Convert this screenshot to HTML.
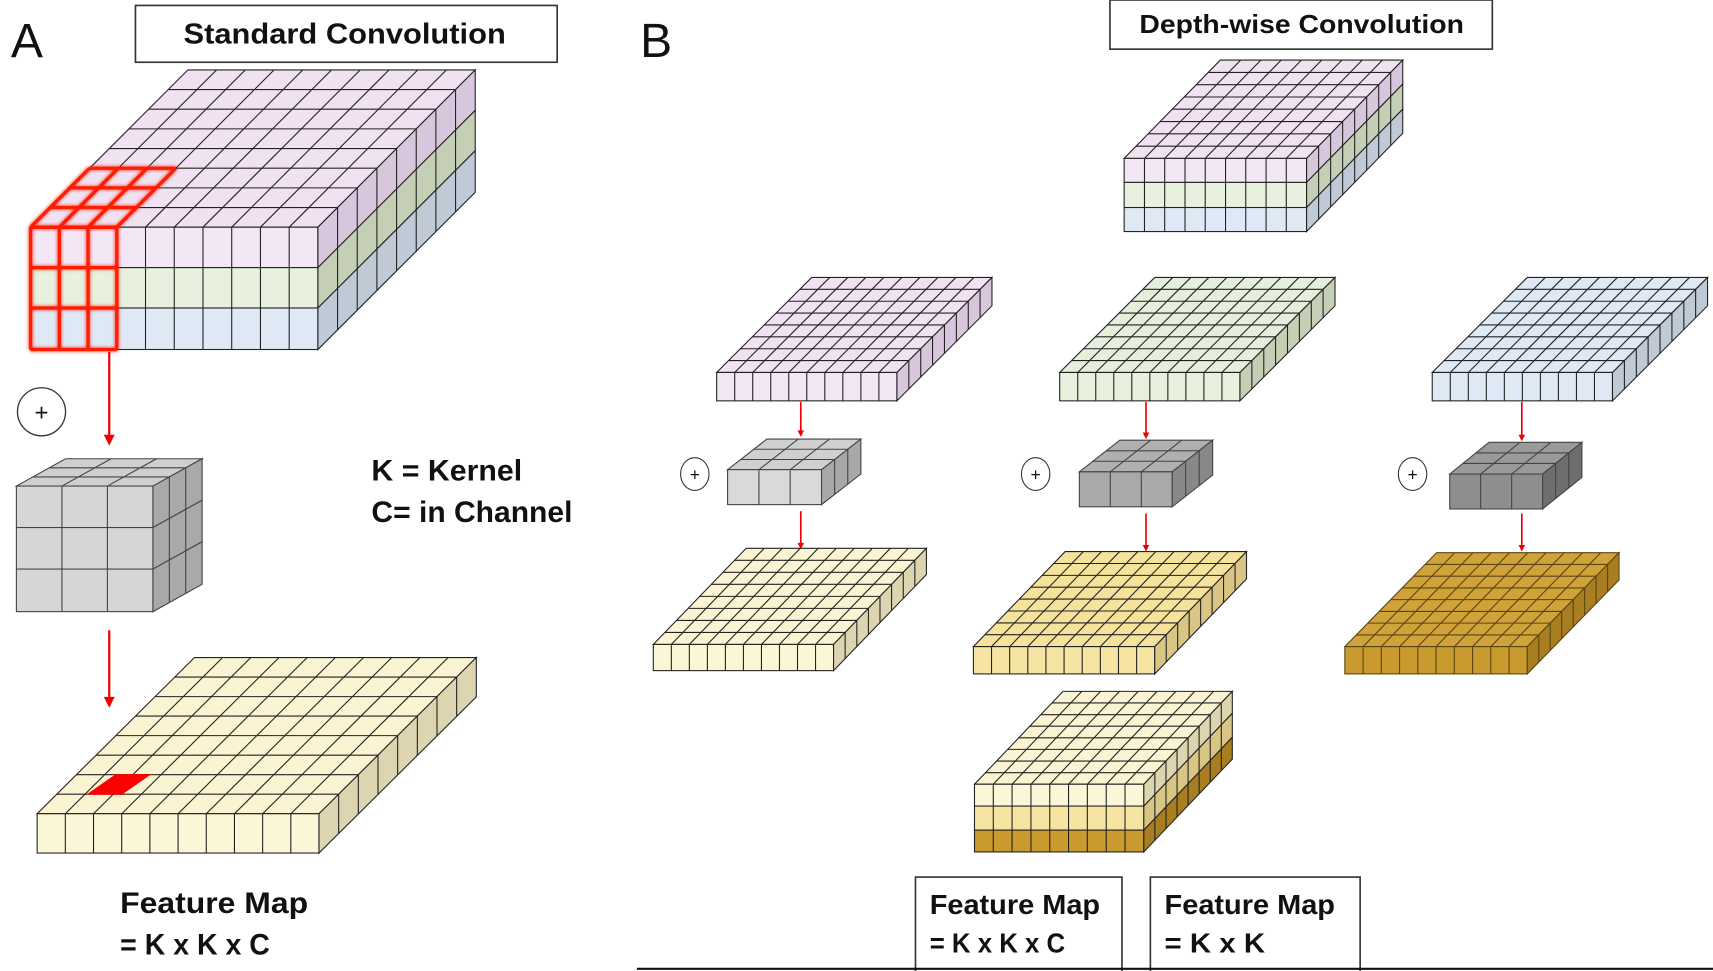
<!DOCTYPE html>
<html><head><meta charset="utf-8"><style>
html,body{margin:0;padding:0;background:#fff;width:1713px;height:971px;overflow:hidden}
svg{display:block}
text{font-family:"Liberation Sans",sans-serif;font-weight:bold;fill:#111}
</style></head><body>
<svg id="s" width="1713" height="971" viewBox="0 0 1568 889" preserveAspectRatio="none" xmlns="http://www.w3.org/2000/svg">
<defs>
<filter id="glow" x="-20%" y="-20%" width="140%" height="140%"><feGaussianBlur stdDeviation="1.6" result="b"/><feMerge><feMergeNode in="b"/><feMergeNode in="SourceGraphic"/></feMerge></filter>
</defs>
<g id="g"></g>
<text x="10" y="52" style="font-weight:normal;font-size:44px">A</text>
<text x="586" y="52" style="font-weight:normal;font-size:44px">B</text>
<rect x="124" y="5" width="386" height="52" fill="#fff" stroke="#333" stroke-width="1.5"/>
<text x="168" y="40" font-size="26" textLength="295" lengthAdjust="spacingAndGlyphs">Standard Convolution</text>
<rect x="1016" y="0" width="350" height="45" fill="#fff" stroke="#333" stroke-width="1.5"/>
<text x="1043" y="30" font-size="24" textLength="297" lengthAdjust="spacingAndGlyphs">Depth-wise Convolution</text>
<text x="340" y="440" font-size="27" textLength="138" lengthAdjust="spacingAndGlyphs">K = Kernel</text>
<text x="340" y="478" font-size="27" textLength="184" lengthAdjust="spacingAndGlyphs">C= in Channel</text>
<text x="110" y="836" font-size="27" textLength="172" lengthAdjust="spacingAndGlyphs">Feature Map</text>
<text x="110" y="874" font-size="27" textLength="137" lengthAdjust="spacingAndGlyphs">= K x K x C</text>
<rect x="838" y="803" width="189" height="90" fill="#fff" stroke="#333" stroke-width="1.5"/>
<rect x="1053" y="803" width="192" height="90" fill="#fff" stroke="#333" stroke-width="1.5"/>
<text x="851" y="837" font-size="25" textLength="156" lengthAdjust="spacingAndGlyphs">Feature Map</text>
<text x="851" y="872" font-size="25" textLength="124" lengthAdjust="spacingAndGlyphs">= K x K x C</text>
<text x="1066" y="837" font-size="25" textLength="156" lengthAdjust="spacingAndGlyphs">Feature Map</text>
<text x="1066" y="872" font-size="25" textLength="92" lengthAdjust="spacingAndGlyphs">= K x K</text>
<line x1="583" y1="887" x2="1568" y2="887" stroke="#111" stroke-width="2"/>
</svg>
<script>
var G=document.getElementById('g'),out='';
function poly(pts,fill,stroke,sw){out+='<polygon points="'+pts.map(p=>p[0].toFixed(1)+','+p[1].toFixed(1)).join(' ')+'" fill="'+fill+'" stroke="'+(stroke||'#222')+'" stroke-width="'+(sw||1)+'"/>';}
function ln(a,b,st,sw){out+='<line x1="'+a[0].toFixed(1)+'" y1="'+a[1].toFixed(1)+'" x2="'+b[0].toFixed(1)+'" y2="'+b[1].toFixed(1)+'" stroke="'+(st||'#222')+'" stroke-width="'+(sw||1)+'"/>';}
function box(o){
 var x=o.x,y=o.y,w=o.w,dx=o.dx,dy=o.dy,nx=o.nx,nz=o.nz,L=o.layers,st=o.st||'#222',sw=o.sw||1;
 function P(i,j){return [x+i*w/nx+j*dx/nz, y-j*dy/nz];}
 poly([P(0,0),P(nx,0),P(nx,nz),P(0,nz)],L[0].t,st,sw);
 for(var i=1;i<nx;i++)ln(P(i,0),P(i,nz),st,sw);
 for(var j=1;j<nz;j++)ln(P(0,j),P(nx,j),st,sw);
 var yy=y;
 L.forEach(function(l){
  var h=l.h;
  out+='<rect x="'+x+'" y="'+yy+'" width="'+w+'" height="'+h+'" fill="'+l.f+'" stroke="'+st+'" stroke-width="'+sw+'"/>';
  for(var i=1;i<nx;i++){var xx=x+i*w/nx;ln([xx,yy],[xx,yy+h],st,sw);}
  poly([[x+w,yy],[x+w+dx,yy-dy],[x+w+dx,yy+h-dy],[x+w,yy+h]],l.s,st,sw);
  for(var j=1;j<nz;j++){var a=x+w+j*dx/nz,b=yy-j*dy/nz;ln([a,b],[a,b+h],st,sw);}
  yy+=h;
 });
 return P;
}
var pink={f:'#f4e7f5',t:'#f1e2f2',s:'#d8c6dc'},green={f:'#e8f1de',t:'#e6efdc',s:'#c5cfb5'},blue={f:'#dfe9f5',t:'#dfe9f5',s:'#c0c9d6'};
var ly={f:'#fbf6d8',t:'#faf4d2',s:'#ddd5b0'},yl={f:'#f6e5a2',t:'#f5e39c',s:'#d9c684'},gd={f:'#c99a2e',t:'#cfa23a',s:'#a87e20'};
function L(c,h){return {f:c.f,t:c.t,s:c.s,h:h};}
var PA=box({x:28,y:208,w:263,dx:144,dy:144,nx:10,nz:8,layers:[L(pink,37),L(green,37),L(blue,38)]});
var r='#ff1a00';out+='<g filter="url(#glow)">';
var cw=263/10;
for(var i=0;i<=3;i++)ln(PA(i,0),PA(i,3),r,3);
for(var j=0;j<=3;j++)ln(PA(0,j),PA(3,j),r,3);
for(var i=0;i<=3;i++)ln([28+i*cw,208],[28+i*cw,320],r,3);
[208,245,282,320].forEach(function(v){ln([28,v],[28+3*cw,v],r,3);});
out+='</g>';
ln([100,322],[100,400],'#e00',2);out+='<path d="M95,398 L100,408 L105,398z" fill="#e00"/>';
out+='<ellipse cx="38" cy="377" rx="22" ry="22" fill="#fff" stroke="#333" stroke-width="1.2"/><text x="38" y="385" text-anchor="middle" font-size="22" style="font-weight:normal">+</text>';
var gr={f:'#d6d6d6',t:'#cfcfcf',s:'#a9a9a9'};
box({x:15,y:445,w:125,dx:45,dy:25,nx:3,nz:3,layers:[L(gr,38),L(gr,38),L(gr,39)],st:'#444'});
ln([100,577],[100,640],'#e00',2);out+='<path d="M95,638 L100,648 L105,638z" fill="#e00"/>';
var PF=box({x:34,y:745,w:258,dx:144,dy:143,nx:10,nz:8,layers:[L(ly,36)]});
poly([PF(1.1,1),PF(2.3,1),PF(2.6,2),PF(1.4,2)],'#f00','#f00',1);
box({x:1029,y:145,w:167,dx:88,dy:90,nx:9,nz:8,layers:[L(pink,22),L(green,23),L(blue,22)]});
box({x:656,y:341,w:165,dx:87,dy:87,nx:10,nz:8,layers:[L(pink,26)]});
box({x:970,y:341,w:165,dx:87,dy:87,nx:10,nz:8,layers:[L(green,26)]});
box({x:1311,y:341,w:165,dx:87,dy:87,nx:10,nz:8,layers:[L(blue,26)]});
var g1={f:'#d9d9d9',t:'#d0d0d0',s:'#a8a8a8'},g2={f:'#a9a9a9',t:'#b0b0b0',s:'#888'},g3={f:'#8e8e8e',t:'#9a9a9a',s:'#6e6e6e'};
box({x:666,y:430,w:86,dx:36,dy:28,nx:3,nz:3,layers:[L(g1,32)],st:'#444'});
box({x:988,y:432,w:85,dx:37,dy:29,nx:3,nz:3,layers:[L(g2,32)],st:'#444'});
box({x:1327,y:434,w:85,dx:36,dy:29,nx:3,nz:3,layers:[L(g3,32)],st:'#444'});
[[636,434],[948,434],[1293,434]].forEach(function(c){out+='<ellipse cx="'+c[0]+'" cy="'+c[1]+'" rx="13" ry="15" fill="#fff" stroke="#333" stroke-width="1"/><text x="'+c[0]+'" y="'+(c[1]+6)+'" text-anchor="middle" font-size="16" style="font-weight:normal">+</text>';});
function arr(xx,y1,y2){ln([xx,y1],[xx,y2-5],'#e00',1.5);out+='<path d="M'+(xx-3)+','+(y2-6)+' L'+xx+','+y2+' L'+(xx+3)+','+(y2-6)+'z" fill="#e00"/>';}
arr(733,368,400);arr(733,468,503);arr(1049,368,402);arr(1049,470,505);arr(1393,368,404);arr(1393,470,505);
box({x:598,y:590,w:165,dx:85,dy:88,nx:10,nz:8,layers:[L(ly,24)]});
box({x:891,y:592,w:166,dx:84,dy:87,nx:10,nz:8,layers:[L(yl,25)]});
box({x:1231,y:592,w:167,dx:84,dy:86,nx:10,nz:8,layers:[L(gd,25)],st:'#5a4510'});
box({x:892,y:718,w:155,dx:81,dy:85,nx:9,nz:8,layers:[L(ly,20),L(yl,22),L(gd,20)]});
G.innerHTML=out;
</script>
</body></html>
